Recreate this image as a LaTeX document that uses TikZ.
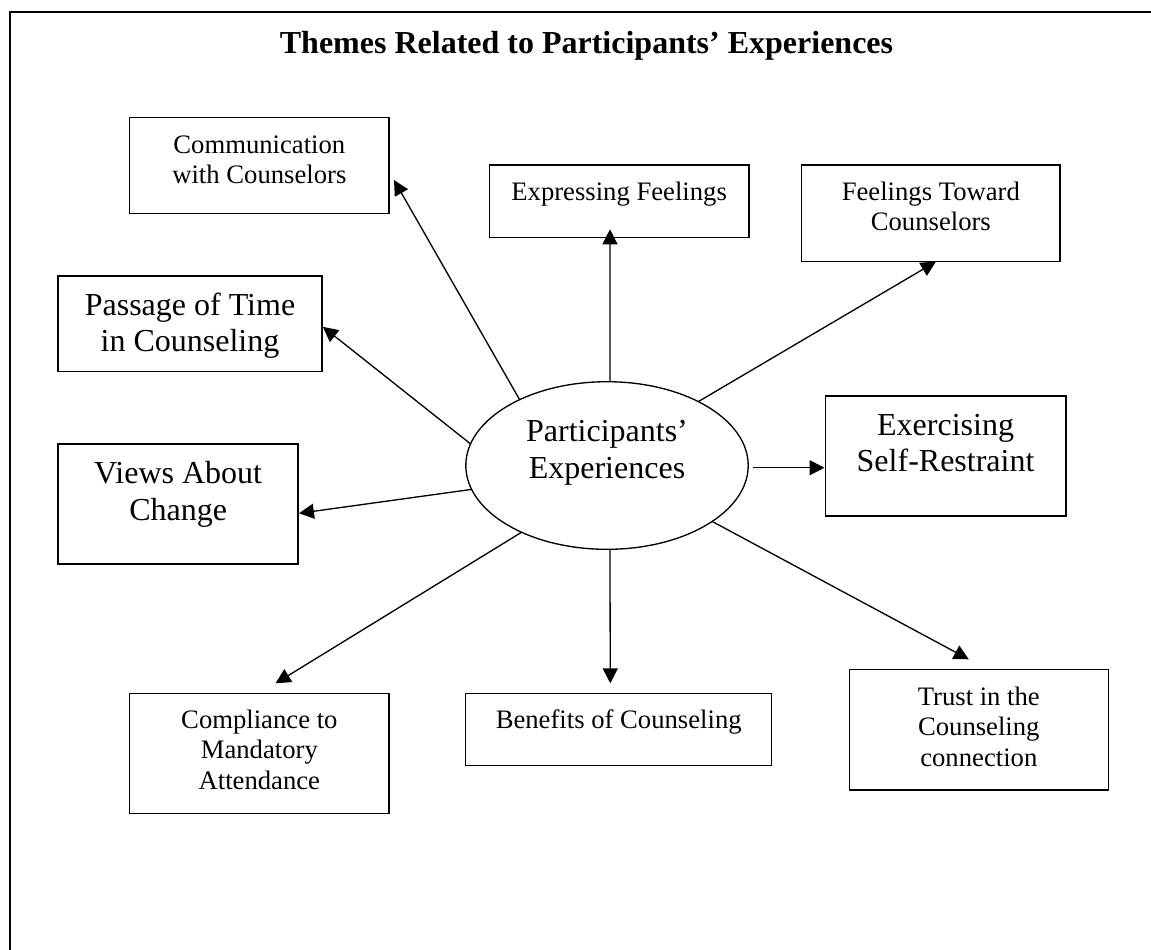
\documentclass[tikz,border=0pt]{standalone}
\usepackage{fontspec}
\setmainfont{Liberation Serif}
\usetikzlibrary{arrows.meta,shapes.geometric}
\newcommand{\ml}[1]{\begin{tabular}[t]{@{}c@{}}#1\end{tabular}}
\begin{document}
\begin{tikzpicture}[x=0.375pt,y=-0.375pt,
  box/.style={draw, line width=0.55pt, rectangle, inner sep=0pt, outer sep=0pt, anchor=base},
  small/.style={font=\fontsize{10pt}{11.5pt}\selectfont},
  big/.style={font=\fontsize{12pt}{13.8pt}\selectfont},
  conn/.style={line width=0.5pt, -{Triangle[length=5.6pt,width=5.6pt]}}]
\useasboundingbox (0,0) rectangle (1151,949);
\fill[white] (0,0) rectangle (1151,949);
\draw[line width=0.75pt] (9.5,960) -- (9.5,12.3) -- (1160,12.3);

\node[anchor=base, font=\fontsize{12pt}{13.8pt}\selectfont\bfseries] (title) at (586.5,53) {Themes Related to Participants’ Experiences};

\node[box, small, minimum width=97.39pt, text height=13.5pt, text depth=22.5pt] (comm) at (259.35,153.3) {\ml{Communication\\with Counselors}};
\node[box, small, minimum width=97.39pt, text height=13.125pt, text depth=13.99pt] (expr) at (619.15,200) {Expressing Feelings};
\node[box, small, minimum width=97.01pt, text height=13.125pt, text depth=23.14pt] (feel) at (930.85,200) {\ml{Feelings Toward\\Counselors}};
\node[box, big, minimum width=98.93pt, text height=14.625pt, text depth=21.26pt] (pass) at (190,315) {\ml{Passage of Time\\in Counseling}};
\node[box, big, minimum width=90.04pt, text height=14.74pt, text depth=30.26pt] (views) at (178.15,483.3) {\ml{Views About\\Change}};
\node[box, big, minimum width=90.19pt, text height=14.625pt, text depth=30.375pt] (exer) at (945.55,435) {\ml{Exercising\\Self-Restraint}};
\node[box, small, minimum width=97.39pt, text height=13.125pt, text depth=31.875pt] (comp) at (259.35,728.3) {\ml{Compliance to\\Mandatory\\Attendance}};
\node[box, small, minimum width=114.75pt, text height=13.125pt, text depth=14.025pt] (bene) at (618.7,728.3) {Benefits of Counseling};
\node[box, small, minimum width=97.125pt, text height=13.39pt, text depth=31.875pt] (trust) at (978.8,705) {\ml{Trust in the\\Counseling\\connection}};

\node[draw, ellipse, line width=0.5pt, big, inner sep=0pt, outer sep=0pt,
      minimum width=105.9pt, minimum height=62.85pt,
      text height=3.75pt, text depth=21.6pt, anchor=base] (ell) at (607,441.7) {\ml{Participants’\\Experiences}};

\draw[conn] (ell.143.5) -- ([shift={(4.8,14.7)}]comm.east);
\draw[conn] (ell.171.1) -- ([shift={(1,3)}]pass.east);
\draw[conn] (ell.190.6) -- ([shift={(0.8,9.3)}]views.east);
\draw[conn] (ell.218.5) -- ([shift={(16.25,-10)}]comp.north);
\draw[conn] (ell.272) -- ([shift={(-8.4,-10)}]bene.north);
\draw[conn] (ell.332.5) -- ([shift={(-10,-10)}]trust.north);
\draw[conn] ([shift={(5,2.2)}]ell.east) -- ([shift={(-0.8,11.7)}]exer.west);
\draw[conn] (ell.35.6) -- ([shift={(5,0)}]feel.south);
\draw[conn] (ell.88) -- ([shift={(-9.15,-8)}]expr.south);
\end{tikzpicture}
\end{document}
